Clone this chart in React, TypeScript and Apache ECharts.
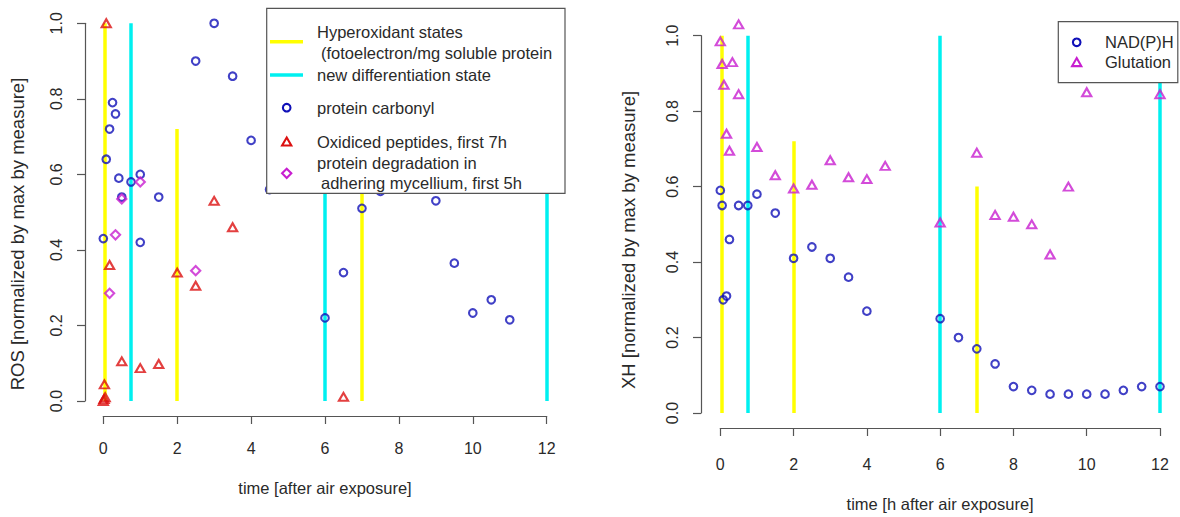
import React, { useEffect, useRef } from "react";
import * as echarts from "echarts";

// ---- data ----
const xTicks = [0, 2, 4, 6, 8, 10, 12];
const yTickLabels = ["0.0", "0.2", "0.4", "0.6", "0.8", "1.0"];

// left panel
const proteinCarbonyl: [number, number][] = [
  [0, 0.43], [0.08, 0.64], [0.17, 0.72], [0.25, 0.79], [0.33, 0.76], [0.42, 0.59],
  [0.5, 0.54], [0.75, 0.58], [1, 0.6], [1, 0.42], [1.5, 0.54], [2.5, 0.9], [3, 1.0],
  [3.5, 0.86], [4, 0.69], [4.5, 0.56], [6, 0.22], [6.5, 0.34], [7, 0.51], [7.5, 0.555],
  [9, 0.53], [9.5, 0.365], [10, 0.233], [10.5, 0.268], [11, 0.215],
];
const oxidicedPeptides: [number, number][] = [
  [0.08, 1.0], [0, 0], [0.02, 0.005], [0.05, 0.01], [0.03, 0.044], [0.17, 0.36],
  [0.5, 0.105], [1, 0.087], [1.5, 0.098], [2, 0.34], [2.5, 0.305], [3, 0.53],
  [3.5, 0.46], [6.5, 0.011],
];
const proteinDegradation: [number, number][] = [
  [0.17, 0.285], [0.33, 0.44], [0.5, 0.535], [1, 0.58], [2.5, 0.345],
];

// right panel
const nadph: [number, number][] = [
  [0, 0.59], [0.05, 0.55], [0.08, 0.3], [0.17, 0.31], [0.25, 0.46], [0.5, 0.55],
  [0.75, 0.55], [1, 0.58], [1.5, 0.53], [2, 0.41], [2.5, 0.44], [3, 0.41], [3.5, 0.36],
  [4, 0.27], [6, 0.25], [6.5, 0.2], [7, 0.17], [7.5, 0.13], [8, 0.07], [8.5, 0.06],
  [9, 0.05], [9.5, 0.05], [10, 0.05], [10.5, 0.05], [11, 0.06], [11.5, 0.07], [12, 0.07],
];
const glutation: [number, number][] = [
  [0, 0.985], [0.05, 0.925], [0.1, 0.87], [0.17, 0.74], [0.25, 0.695], [0.33, 0.93],
  [0.5, 1.03], [0.5, 0.845], [1, 0.705], [1.5, 0.63], [2, 0.595], [2.5, 0.605],
  [3, 0.67], [3.5, 0.625], [4, 0.62], [4.5, 0.655], [6, 0.505], [7, 0.69], [7.5, 0.525],
  [8, 0.52], [8.5, 0.5], [9, 0.42], [9.5, 0.6], [10, 0.85], [12, 0.845],
];

// vertical state markers (time, top value)
const hyperoxidantX = [0.04, 2, 7];
const hyperoxidantTop = [1.0, 0.72, 0.6];
const differentiationX = [0.75, 6, 12];
const differentiationTop = [1.0, 1.0, 1.0];

// ---- styles ----
const FONT = "'Liberation Sans', Arial, Helvetica, sans-serif";
const TEXT = "#2a2a2a";
const AXIS = "#555";
const BLUE = "#1010b8";
const RED = "#dc1010";
const MAGENTA = "#c81ed0";
const YELLOW = "#ffff00";
const CYAN = "#00f0f0";

const grids = [
  { left: 103.3, top: 23.3, width: 443.4, height: 377.7, xOff: 15, yOff: 18.3, xMargin: 24, yMargin: 21 },
  { left: 720.3, top: 35.7, width: 439.7, height: 382, xOff: 15, yOff: 19.3, xMargin: 28, yMargin: 21 },
];

function vlines(xs: number[], tops: number[], color: string, gi: number) {
  return {
    type: "lines",
    coordinateSystem: "cartesian2d",
    xAxisIndex: gi,
    yAxisIndex: gi,
    z: 1,
    silent: true,
    lineStyle: { color, width: 3.5, opacity: 1 },
    data: xs.map((x, i) => ({ coords: [[x, 0], [x, tops[i]]] })),
  };
}

function pts(data: [number, number][], symbol: string, size: any, color: string, gi: number, name: string) {
  return {
    type: "scatter",
    name,
    xAxisIndex: gi,
    yAxisIndex: gi,
    clip: false,
    z: 3,
    symbol,
    symbolSize: size,
    itemStyle: { color: "rgba(0,0,0,0)", borderColor: color, borderWidth: 2.1 },
    data,
  };
}

function tri(cx: number, cy: number, color: string) {
  return {
    type: "polygon",
    z: 101,
    shape: { points: [[cx, cy - 4.2], [cx + 4.6, cy + 3.8], [cx - 4.6, cy + 3.8]] },
    style: { fill: "none", stroke: color, lineWidth: 2.1 },
  };
}
function circ(cx: number, cy: number, color: string) {
  return { type: "circle", z: 101, shape: { cx, cy, r: 3.8 }, style: { fill: "none", stroke: color, lineWidth: 2.1 } };
}
function diam(cx: number, cy: number, color: string) {
  return {
    type: "polygon",
    z: 101,
    shape: { points: [[cx, cy - 4.6], [cx + 4.6, cy], [cx, cy + 4.6], [cx - 4.6, cy]] },
    style: { fill: "none", stroke: color, lineWidth: 2.1 },
  };
}
function txt(x: number, y: number, text: string, size = 16.5) {
  return {
    type: "text",
    z: 101,
    x,
    y,
    style: { text, fontSize: size, fontFamily: FONT, fill: TEXT, align: "left", verticalAlign: "middle" },
  };
}
function hline(x1: number, x2: number, y: number, color: string) {
  return { type: "line", z: 101, shape: { x1, y1: y, x2, y2: y }, style: { stroke: color, lineWidth: 3.5 } };
}

export default function App() {
  const ref = useRef<HTMLDivElement>(null);
  useEffect(() => {
    if (!ref.current) return;
    const chart = echarts.init(ref.current, undefined, { renderer: "svg" });
    const xAxes = grids.map((g, i) => ({
      type: "value",
      gridIndex: i,
      min: 0,
      max: 12,
      interval: 2,
      offset: g.xOff,
      name: i === 0 ? "time [after air exposure]" : "time [h after air exposure]",
      nameLocation: "middle",
      nameGap: i === 0 ? 63 : 67,
      nameTextStyle: { fontSize: 16.5, fontFamily: FONT, color: TEXT },
      axisLine: { show: true, onZero: false, lineStyle: { color: AXIS, width: 1.2 } },
      axisTick: { show: true, length: 8, lineStyle: { color: AXIS, width: 1.2 } },
      axisLabel: {
        fontSize: 16,
        fontFamily: FONT,
        color: TEXT,
        margin: g.xMargin,
        formatter: (v: number) => (xTicks.includes(v) ? String(v) : ""),
      },
      splitLine: { show: false },
    }));
    const yAxes = grids.map((g, i) => ({
      type: "value",
      gridIndex: i,
      min: 0,
      max: 1,
      interval: 0.2,
      offset: g.yOff,
      axisLine: { show: true, onZero: false, lineStyle: { color: AXIS, width: 1.2 } },
      axisTick: { show: true, length: 8, lineStyle: { color: AXIS, width: 1.2 } },
      axisLabel: {
        fontSize: 16,
        fontFamily: FONT,
        color: TEXT,
        rotate: 90,
        margin: g.yMargin,
        formatter: (v: number) => yTickLabels[Math.round(v / 0.2)] ?? "",
      },
      splitLine: { show: false },
    }));

    const legendLeft = [
      { type: "rect", z: 100, shape: { x: 266.7, y: 8.3, width: 298.3, height: 185 }, style: { fill: "#fff", stroke: AXIS, lineWidth: 1.2 } },
      hline(270, 303, 41.7, YELLOW),
      txt(317, 31.7, "Hyperoxidant states"),
      txt(321, 53.3, "(fotoelectron/mg soluble protein"),
      hline(270, 303, 75, CYAN),
      txt(317, 75, "new differentiation state"),
      circ(286.7, 107.7, BLUE),
      txt(317, 108, "protein carbonyl"),
      tri(286.7, 141.7, RED),
      txt(317, 141.7, "Oxidiced peptides, first 7h"),
      diam(286.7, 173.3, MAGENTA),
      txt(317, 163.3, "protein degradation in"),
      txt(321, 183.3, "adhering mycellium, first 5h"),
    ];
    const legendRight = [
      { type: "rect", z: 100, shape: { x: 1058.3, y: 21.7, width: 119.5, height: 61 }, style: { fill: "#fff", stroke: AXIS, lineWidth: 1.2 } },
      circ(1076.7, 42.3, BLUE),
      txt(1105, 42.3, "NAD(P)H"),
      tri(1076.7, 62.3, MAGENTA),
      txt(1105, 62.3, "Glutation"),
    ];
    const yTitles = [
      {
        type: "text", z: 50, x: 17, y: 234, rotation: Math.PI / 2,
        style: { text: "ROS [normalized by max by measure]", fontSize: 18.5, fontFamily: FONT, fill: TEXT, align: "center", verticalAlign: "middle" },
      },
      {
        type: "text", z: 50, x: 628.5, y: 240, rotation: Math.PI / 2,
        style: { text: "XH [normalized by max by measure]", fontSize: 18.5, fontFamily: FONT, fill: TEXT, align: "center", verticalAlign: "middle" },
      },
    ];

    chart.setOption({
      animation: false,
      backgroundColor: "#fff",
      textStyle: { fontFamily: FONT },
      grid: grids.map((g) => ({ left: g.left, top: g.top, width: g.width, height: g.height, containLabel: false })),
      xAxis: xAxes,
      yAxis: yAxes,
      series: [
        vlines(hyperoxidantX, hyperoxidantTop, YELLOW, 0),
        vlines(differentiationX, differentiationTop, CYAN, 0),
        pts(proteinCarbonyl, "circle", 7.6, BLUE, 0, "protein carbonyl"),
        pts(oxidicedPeptides, "triangle", [9.2, 8], RED, 0, "Oxidiced peptides, first 7h"),
        pts(proteinDegradation, "diamond", [9.2, 9.2], MAGENTA, 0, "protein degradation in adhering mycellium, first 5h"),
        vlines(hyperoxidantX, hyperoxidantTop, YELLOW, 1),
        vlines(differentiationX, differentiationTop, CYAN, 1),
        pts(nadph, "circle", 7.6, BLUE, 1, "NAD(P)H"),
        pts(glutation, "triangle", [9.2, 8], MAGENTA, 1, "Glutation"),
      ],
      graphic: [...yTitles, ...legendLeft, ...legendRight],
    });
    return () => chart.dispose();
  }, []);
  return (
    <div
      ref={ref}
      style={{ position: "absolute", left: 0, top: 0, width: 1180, height: 517, background: "#fff" }}
    />
  );
}
